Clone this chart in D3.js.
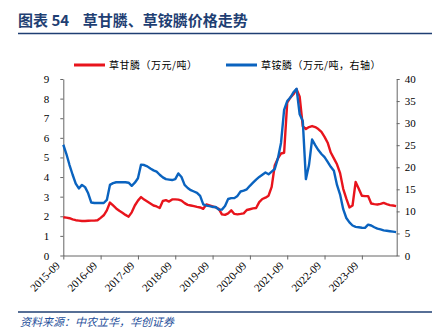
<!DOCTYPE html>
<html><head><meta charset="utf-8">
<script src="https://cdn.jsdelivr.net/npm/d3@7"></script>
<style>
html,body{margin:0;padding:0;background:#fff;overflow:hidden;}
svg{display:block;}
</style></head>
<body>
<script>
const xTickLabels = ["2015-09","2016-09","2017-09","2018-09","2019-09","2020-09","2021-09","2022-09","2023-09"];
// monthly, 2015-09 .. 2024-08
const glyphosate = [1.95,1.93,1.90,1.84,1.80,1.78,1.76,1.76,1.77,1.78,1.78,1.80,1.92,2.05,2.30,2.70,2.55,2.40,2.28,2.18,
2.07,1.98,2.20,2.55,2.80,2.98,2.85,2.75,2.65,2.55,2.50,2.42,2.78,2.82,2.75,2.86,2.86,2.85,2.80,2.67,
2.58,2.55,2.52,2.48,2.45,2.38,2.60,2.55,2.50,2.45,2.38,2.10,2.07,2.15,2.30,2.12,2.10,2.12,2.15,2.32,
2.36,2.40,2.42,2.72,2.88,2.95,3.05,3.50,4.60,4.95,5.20,5.24,7.80,8.05,8.22,8.48,8.10,6.60,6.45,6.55,
6.60,6.55,6.45,6.30,6.05,5.75,5.25,4.95,4.65,4.20,3.40,2.90,2.45,2.55,3.75,3.40,3.05,3.03,3.03,2.65,
2.62,2.60,2.63,2.68,2.62,2.57,2.55,2.52];
const glufosinate = [25.1,23.0,20.5,18.3,16.3,15.2,16.0,15.5,14.1,12.0,11.9,11.9,11.9,11.9,12.6,16.0,16.4,16.6,16.6,16.6,
16.6,16.5,15.8,16.5,17.5,20.6,20.5,20.2,19.7,19.3,19.0,18.3,17.7,17.3,17.2,17.1,17.3,18.6,17.8,16.0,
15.3,14.8,14.5,14.2,13.5,11.6,11.3,11.2,11.0,11.0,10.4,10.4,11.2,12.8,13.0,13.0,13.5,14.5,14.7,15.0,
15.8,16.5,17.2,17.8,18.3,18.8,18.4,19.0,19.6,22.0,25.5,33.0,35.0,35.8,37.0,37.8,32.0,30.5,17.3,20.5,
26.3,25.0,23.9,23.0,22.3,21.2,20.1,19.2,16.0,13.8,10.5,8.5,7.5,6.8,6.5,6.4,6.3,6.25,7.0,6.8,
6.4,6.1,5.9,5.7,5.6,5.5,5.4,5.3];
const leftTicks = [0,1,2,3,4,5,6,7,8,9];
const rightTicks = [0,5,10,15,20,25,30,35,40];
const seriesNames = ["草甘膦（万元/吨）","草铵膦（万元/吨，右轴）"];
const titleText = "图表 54    草甘膦、草铵膦价格走势";
const sourceText = "资料来源：中农立华，华创证券";

const W = 440, H = 329;
const svg = d3.select("body").append("svg").attr("width", W).attr("height", H);
const navy = "#1f3f73";
const red = "#e8141c", blue = "#0a63bf";
const serif = "'Liberation Serif','Times New Roman',serif";
const cjk = "'Noto Sans CJK SC','Noto Sans',sans-serif";

// title
svg.append("text").attr("x", 18).attr("y", 26).attr("fill", navy)
  .attr("font-family", cjk).attr("font-weight", "bold").attr("font-size", 15)
  .attr("xml:space","preserve").style("white-space","pre").text(titleText);
svg.append("line").attr("x1", 18).attr("x2", 432).attr("y1", 33.5).attr("y2", 33.5)
  .attr("stroke", navy).attr("stroke-width", 1.6);

const x = d3.scaleLinear().domain([0, 107.2]).range([63.3, 396.7]);
const yL = d3.scaleLinear().domain([0, 9]).range([255.5, 79]);
const yR = d3.scaleLinear().domain([0, 40]).range([255.5, 79]);

const axisColor = "#666";
function styleAxis(g){
  g.selectAll("path.domain").attr("stroke", axisColor).attr("stroke-width", 1);
  g.selectAll(".tick line").attr("stroke", axisColor);
  g.selectAll(".tick text").attr("fill", "#000").attr("font-family", serif).attr("font-size", 11);
}
const gL = svg.append("g").attr("transform", `translate(${x.range()[0]},0)`)
  .call(d3.axisLeft(yL).tickValues(leftTicks).tickSize(3).tickSizeOuter(0).tickPadding(11).tickFormat(d3.format("d")));
styleAxis(gL);
const gR = svg.append("g").attr("transform", `translate(${x.range()[1]},0)`)
  .call(d3.axisRight(yR).tickValues(rightTicks).tickSize(3).tickSizeOuter(0).tickPadding(5).tickFormat(d3.format("d")));
styleAxis(gR);
const gX = svg.append("g").attr("transform", `translate(0,${yL(0)})`)
  .call(d3.axisBottom(x).tickValues(xTickLabels.map((d,i)=>i*12)).tickSize(4).tickSizeOuter(0)
  .tickFormat((d,i)=>xTickLabels[i]));
styleAxis(gX);
gX.selectAll(".tick text").attr("text-anchor","end").attr("dy", null)
  .attr("transform","translate(-5,9) rotate(-45)").attr("y",0).attr("x",0).attr("dominant-baseline","middle")
  .attr("font-size", 11);

// lines
const lineL = d3.line().x((d,i)=>x(i)).y(d=>yL(d));
const lineR = d3.line().x((d,i)=>x(i)).y(d=>yR(d));
svg.append("path").datum(glyphosate).attr("d", lineL).attr("fill","none")
  .attr("stroke", red).attr("stroke-width", 2.4).attr("stroke-linejoin","round");
svg.append("path").datum(glufosinate).attr("d", lineR).attr("fill","none")
  .attr("stroke", blue).attr("stroke-width", 2.4).attr("stroke-linejoin","round");

// legend
const leg = [{x:74, c:red, t:seriesNames[0]},{x:226, c:blue, t:seriesNames[1]}];
leg.forEach(l=>{
  svg.append("line").attr("x1", l.x).attr("x2", l.x+31).attr("y1", 65).attr("y2", 65)
    .attr("stroke", l.c).attr("stroke-width", 3);
  svg.append("text").attr("x", l.x+35).attr("y", 68.5).attr("font-family", cjk)
    .attr("font-size", 10).attr("letter-spacing", 0.5).attr("fill", "#000").text(l.t);
});

// footer
svg.append("line").attr("x1", 18).attr("x2", 432).attr("y1", 312).attr("y2", 312)
  .attr("stroke", navy).attr("stroke-width", 1.4);
svg.append("text").attr("x", 20).attr("y", 326).attr("font-family", cjk).attr("font-size", 11)
  .attr("font-style","italic").attr("fill", "#1f4f9a").text(sourceText);
</script>
</body></html>
